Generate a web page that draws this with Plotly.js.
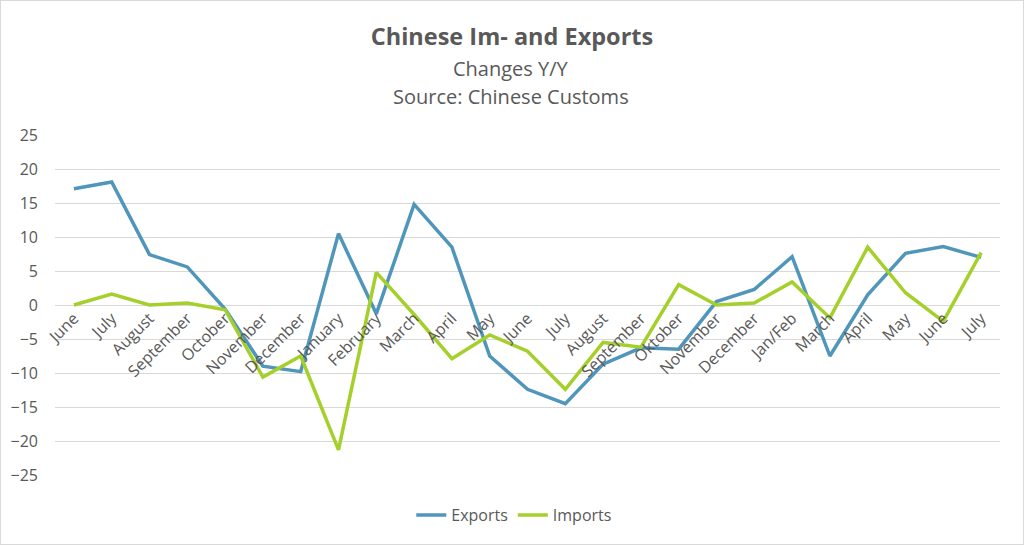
<!DOCTYPE html>
<html>
<head>
<meta charset="utf-8">
<script src="https://cdn.plot.ly/plotly-3.0.1.min.js"></script>
<style>
  html, body { margin: 0; padding: 0; background: #fff; }
  #chart { width: 1022px; height: 543px; border: 1px solid #d9d9d9; }
</style>
</head>
<body>
<div id="chart"></div>
<script>
const categories = ["June","July","August","September","October","November","December","January","February","March","April","May","June","July","August","September","Oktober","November","December","Jan/Feb","March","April","May","June","July"];
const exportsY = [17.1, 18.1, 7.4, 5.6, -0.6, -9.0, -9.8, 10.5, -1.3, 14.8, 8.5, -7.5, -12.4, -14.5, -8.7, -6.3, -6.5, 0.5, 2.3, 7.1, -7.5, 1.5, 7.6, 8.6, 7.0];
const importsY = [0.0, 1.6, 0.0, 0.3, -0.7, -10.6, -7.5, -21.3, 4.8, -1.4, -7.9, -4.4, -6.8, -12.4, -5.5, -6.2, 3.0, 0.0, 0.3, 3.4, -1.9, 8.5, 1.8, -2.4, 7.7];
const yTicks = [-25, -20, -15, -10, -5, 0, 5, 10, 15, 20, 25];

const idx = categories.map((_, i) => i);
const font = "Open Sans, Noto Sans, sans-serif";
const grey = "#595959";

const traces = [
  { x: idx, y: exportsY, name: "Exports", type: "scatter", mode: "lines",
    line: { color: "#4f96ba", width: 3.5 } },
  { x: idx, y: importsY, name: "Imports", type: "scatter", mode: "lines",
    line: { color: "#a5d02b", width: 3.5 } }
];

const layout = {
  width: 1022, height: 543,
  margin: { l: 54, r: 23, t: 134, b: 69 },
  paper_bgcolor: "#fff", plot_bgcolor: "#fff",
  font: { family: font, color: grey },
  title: { text: "<b>Chinese Im- and Exports</b>", x: 0.5, xanchor: "center",
           y: 0.935, yanchor: "middle", font: { size: 23.5, color: grey, family: font } },
  annotations: [
    { text: "Changes Y/Y", xref: "paper", yref: "paper", x: 0.4825, y: 1.197,
      xanchor: "center", yanchor: "middle", showarrow: false, font: { size: 20, color: grey } },
    { text: "Source: Chinese Customs", xref: "paper", yref: "paper", x: 0.4825, y: 1.112,
      xanchor: "center", yanchor: "middle", showarrow: false, font: { size: 20, color: grey } }
  ],
  xaxis: {
    range: [-0.5, categories.length - 0.5],
    tickmode: "array", tickvals: idx, ticktext: categories,
    tickangle: -45, ticks: "", showgrid: false, zeroline: false, showline: false,
    anchor: "free", position: 0.5,
    tickfont: { size: 16, color: grey, family: font },
    fixedrange: true
  },
  yaxis: {
    range: [-25, 25], tickmode: "array", tickvals: yTicks,
    showgrid: true, gridcolor: "#d9d9d9", gridwidth: 1,
    zeroline: true, zerolinecolor: "#d9d9d9", zerolinewidth: 1,
    showline: false, ticks: "", ticklabelstandoff: 16,
    tickfont: { size: 16, color: grey, family: font },
    fixedrange: true
  },
  showlegend: true,
  legend: { orientation: "h", x: 0.486, xanchor: "center", y: -0.118, yanchor: "middle",
            font: { size: 16, color: grey, family: font }, traceorder: "normal" }
};

Plotly.newPlot("chart", traces, layout, { displayModeBar: false, staticPlot: true });
</script>
</body>
</html>
